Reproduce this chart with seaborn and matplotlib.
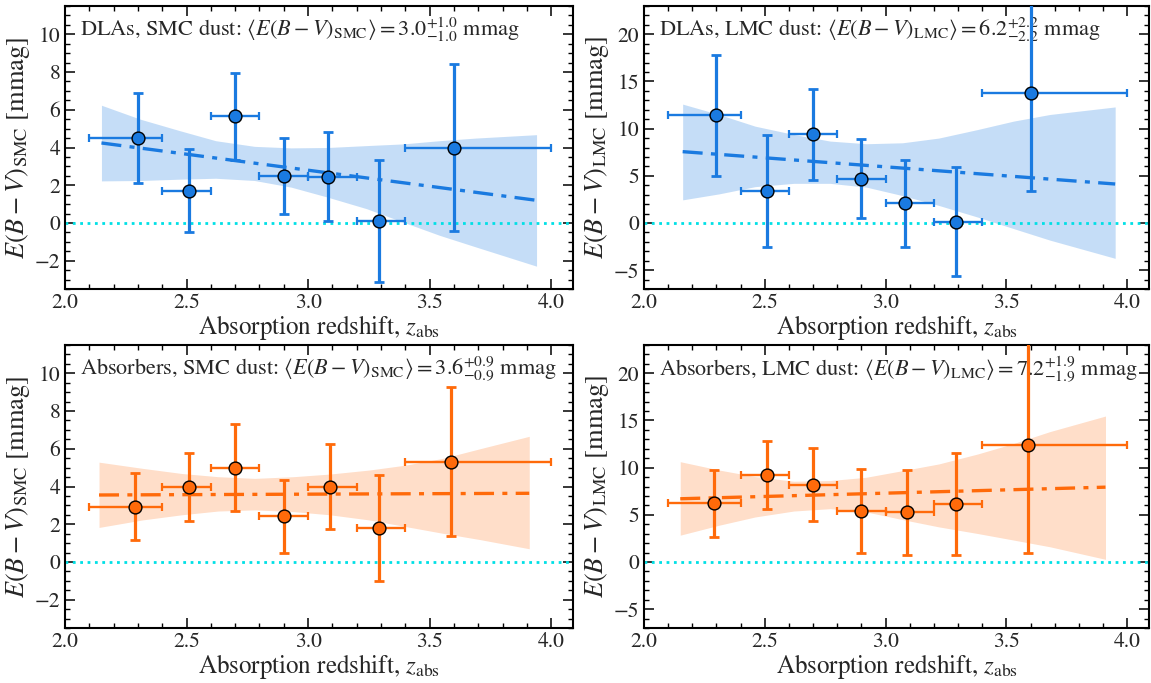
import numpy as np
import pandas as pd
import seaborn as sns
import matplotlib.pyplot as plt
from matplotlib.ticker import MultipleLocator

# bin centres / edges in redshift
z_dla = [2.30, 2.51, 2.70, 2.90, 3.08, 3.29, 3.60]
z_abs = [2.29, 2.51, 2.70, 2.90, 3.09, 3.29, 3.59]
z_lo = [2.1, 2.4, 2.6, 2.8, 3.0, 3.2, 3.4]
z_hi = [2.4, 2.6, 2.8, 3.0, 3.2, 3.4, 4.0]

# E(B-V) per bin [mmag] and symmetric errors
dla_smc = [4.5, 1.7, 5.65, 2.5, 2.45, 0.1, 4.0]
dla_smc_err = [2.4, 2.2, 2.3, 2.0, 2.35, 3.25, 4.45]
dla_lmc = [11.4, 3.4, 9.4, 4.7, 2.1, 0.15, 13.8]
dla_lmc_err = [6.45, 5.9, 4.8, 4.2, 4.6, 5.8, 10.4]
abs_smc = [2.93, 3.95, 5.0, 2.42, 4.0, 1.8, 5.3]
abs_smc_err = [1.76, 1.8, 2.3, 1.95, 2.27, 2.8, 3.95]
abs_lmc = [6.2, 9.2, 8.2, 5.4, 5.25, 6.1, 12.35]
abs_lmc_err = [3.6, 3.6, 3.9, 4.45, 4.5, 5.4, 11.35]

# linear fits (end points) and confidence bands
dla_smc_fit_z = [2.15, 3.94]
dla_smc_fit = [4.24, 1.2]
dla_smc_band_z = [2.15, 2.31, 2.47, 2.62, 2.78, 2.93, 3.08, 3.24, 3.39, 3.54, 3.69, 3.94]
dla_smc_up = [6.24, 5.5, 4.9, 4.36, 4.06, 3.98, 4.0, 4.1, 4.19, 4.36, 4.5, 4.68]
dla_smc_lo = [2.23, 2.25, 2.32, 2.37, 2.25, 1.9, 1.37, 0.76, 0.05, -0.65, -1.27, -2.29]

dla_lmc_fit_z = [2.16, 3.95]
dla_lmc_fit = [7.56, 4.13]
dla_lmc_band_z = [2.16, 2.31, 2.46, 2.62, 2.77, 2.92, 3.07, 3.22, 3.38, 3.53, 3.68, 3.95]
dla_lmc_up = [12.6, 11.5, 10.26, 9.38, 8.68, 8.4, 8.5, 9.0, 9.9, 10.8, 11.5, 12.3]
dla_lmc_lo = [2.45, 3.08, 3.85, 4.2, 4.2, 3.8, 2.9, 1.86, 0.63, -0.6, -1.82, -3.75]

abs_smc_fit_z = [2.14, 3.91]
abs_smc_fit = [3.55, 3.64]
abs_smc_band_z = [2.14, 2.32, 2.48, 2.63, 2.78, 2.94, 3.09, 3.25, 3.40, 3.55, 3.71, 3.91]
abs_smc_up = [5.29, 4.96, 4.69, 4.52, 4.43, 4.52, 4.66, 4.87, 5.13, 5.48, 6.01, 6.66]
abs_smc_lo = [1.83, 2.23, 2.5, 2.7, 2.76, 2.67, 2.5, 2.23, 1.88, 1.53, 1.18, 0.7]

abs_lmc_fit_z = [2.15, 3.91]
abs_lmc_fit = [6.7, 7.93]
abs_lmc_band_z = [2.15, 2.31, 2.46, 2.62, 2.77, 2.92, 3.07, 3.22, 3.38, 3.53, 3.68, 3.91]
abs_lmc_up = [10.63, 9.75, 9.05, 8.56, 8.63, 8.98, 9.68, 10.39, 11.44, 12.56, 13.82, 15.47]
abs_lmc_lo = [2.84, 3.89, 4.77, 5.4, 5.65, 5.3, 4.49, 3.72, 3.02, 2.32, 1.61, 0.28]

titles = [
    r"DLAs, SMC dust: $\langle E(B-V)_{\rm SMC}\rangle = 3.0^{+1.0}_{-1.0}$ mmag",
    r"DLAs, LMC dust: $\langle E(B-V)_{\rm LMC}\rangle = 6.2^{+2.2}_{-2.2}$ mmag",
    r"Absorbers, SMC dust: $\langle E(B-V)_{\rm SMC}\rangle = 3.6^{+0.9}_{-0.9}$ mmag",
    r"Absorbers, LMC dust: $\langle E(B-V)_{\rm LMC}\rangle = 7.2^{+1.9}_{-1.9}$ mmag",
]

BLUE = "#1a7ae0"
ORANGE = "#ff6a0a"

sns.set_theme(style="ticks")
plt.rcParams["font.family"] = ["STIXGeneral", "DejaVu Serif"]
plt.rcParams["mathtext.fontset"] = "stix"
plt.rcParams["axes.linewidth"] = 1.5
plt.rcParams["axes.edgecolor"] = "black"

panels = [
    (z_dla, dla_smc, dla_smc_err, dla_smc_fit_z, dla_smc_fit, dla_smc_band_z, dla_smc_up, dla_smc_lo, BLUE, "SMC"),
    (z_dla, dla_lmc, dla_lmc_err, dla_lmc_fit_z, dla_lmc_fit, dla_lmc_band_z, dla_lmc_up, dla_lmc_lo, BLUE, "LMC"),
    (z_abs, abs_smc, abs_smc_err, abs_smc_fit_z, abs_smc_fit, abs_smc_band_z, abs_smc_up, abs_smc_lo, ORANGE, "SMC"),
    (z_abs, abs_lmc, abs_lmc_err, abs_lmc_fit_z, abs_lmc_fit, abs_lmc_band_z, abs_lmc_up, abs_lmc_lo, ORANGE, "LMC"),
]

fig = plt.figure(figsize=(11.51, 6.83), dpi=100)
W, H = 1151, 683
boxes = [(65, 6, 573, 289), (644, 6, 1149, 289), (65, 345, 573, 628), (644, 345, 1149, 628)]

for i, (z, ebv, err, fz, fy, bz, up, lo, col, dust) in enumerate(panels):
    x0, y0, x1, y1 = boxes[i]
    ax = fig.add_axes([x0 / W, 1 - y1 / H, (x1 - x0) / W, (y1 - y0) / H])

    band_alpha = 0.25 if col == BLUE else 0.22
    ax.fill_between(bz, lo, up, color=col, alpha=band_alpha, lw=0, zorder=1)
    ax.axhline(0, color="#00e0e6", ls=":", lw=2, zorder=2)

    fit = pd.DataFrame({"z": fz, "ebv": fy})
    sns.lineplot(data=fit, x="z", y="ebv", ax=ax, color=col, lw=2.4,
                 linestyle=(0, (6, 2.5, 1.5, 2.5)), zorder=3)

    xerr = [np.array(z) - np.array(z_lo), np.array(z_hi) - np.array(z)]
    ax.errorbar(z, ebv, xerr=xerr, fmt="none", ecolor=col, elinewidth=1.7,
                capsize=3, capthick=1.6, zorder=4)
    ax.errorbar(z, ebv, yerr=err, fmt="none", ecolor=col, elinewidth=2.3,
                capsize=3.5, capthick=2.0, zorder=4)

    pts = pd.DataFrame({"z": z, "ebv": ebv})
    sns.scatterplot(data=pts, x="z", y="ebv", ax=ax, color=col, s=85,
                    edgecolor="black", linewidth=1.0, zorder=5)

    ax.set_xlim(2.0, 4.09)
    ax.xaxis.set_major_locator(MultipleLocator(0.5))
    ax.xaxis.set_minor_locator(MultipleLocator(0.1))
    if dust == "SMC":
        ax.set_ylim(-3.5, 11.5)
        ax.yaxis.set_major_locator(MultipleLocator(2))
        ax.yaxis.set_minor_locator(MultipleLocator(0.5))
    else:
        ax.set_ylim(-7, 23)
        ax.yaxis.set_major_locator(MultipleLocator(5))
        ax.yaxis.set_minor_locator(MultipleLocator(1))
    ax.xaxis.set_major_formatter(plt.FormatStrFormatter("%.1f"))

    ax.tick_params(which="both", direction="in", top=True, right=True,
                   color="black", labelsize=15.5)
    ax.tick_params(axis="x", pad=3)
    ax.tick_params(which="major", length=7, width=1.1)
    ax.tick_params(which="minor", length=3.5, width=1.0)

    ax.set_xlabel(r"Absorption redshift, $z_{\rm abs}$", fontsize=18, labelpad=0)
    ax.set_ylabel(r"$E(B-V)_{\rm %s}$ [mmag]" % dust, fontsize=19, labelpad=2)

    ax.text(0.03, 0.965, titles[i], transform=ax.transAxes, ha="left", va="top",
            fontsize=16, zorder=0)

fig.savefig("out.png", dpi=100)
